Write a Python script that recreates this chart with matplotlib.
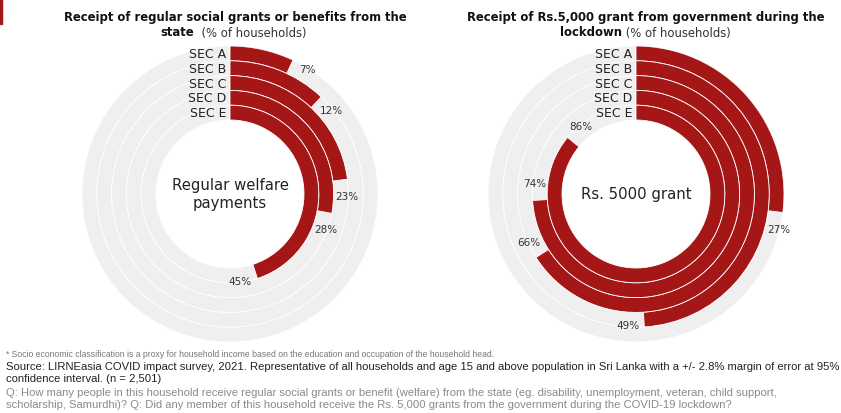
import numpy as np
import matplotlib
matplotlib.use('Agg')
import matplotlib.pyplot as plt
import matplotlib.font_manager as fm
from matplotlib.patches import Rectangle

# data
groups = ['SEC A', 'SEC B', 'SEC C', 'SEC D', 'SEC E']
welfare = [7, 12, 23, 28, 45]
grant = [27, 49, 66, 74, 86]

RED = '#A51616'
GREY = '#EFEFEF'
plt.rcParams['font.family'] = ['DejaVu Sans']

# footer font: narrow one if available
installed = {f.name for f in fm.fontManager.ttflist}
if 'Liberation Sans Narrow' in installed:
    foot, fsize = ['Liberation Sans Narrow'], 9.5
else:
    foot, fsize = ['Liberation Sans'], 8.1

W, H = 841, 414
fig = plt.figure(figsize=(W / 100, H / 100), dpi=100)


def px_axes(cx, cy, r):
    # polar axes box from a centre / radius in pixels
    return fig.add_axes([(cx - r) / W, (H - cy - r) / H, 2 * r / W, 2 * r / H],
                        projection='polar')


def ring_chart(ax, values, centre_text):
    ax.set_theta_zero_location('N')
    ax.set_theta_direction(-1)
    ax.set_ylim(0, 10)
    ax.axis('off')
    radii = [9.5, 8.5, 7.5, 6.5, 5.5]
    # grey tracks
    ax.barh(radii, [2 * np.pi] * 5, left=0, height=1.0, color=GREY,
            edgecolor='white', linewidth=0.6)
    # red bars
    ang = [v / 100 * 2 * np.pi for v in values]
    ax.barh(radii, ang, left=0, height=1.0, color=RED,
            edgecolor='white', linewidth=0.6)
    for g, r in zip(groups, radii):
        ax.annotate(g, xy=(0, r), xytext=(-2.5, 0), textcoords='offset points',
                    ha='right', va='center', fontsize=9, color='#222222')
    for v, a, r in zip(values, ang, radii):
        off = 16 / (r * 14.8)
        ax.text(a + off, r + 0.4, f'{v}%', ha='center', va='center',
                fontsize=7.5, color='#333333')
    ax.text(0, 0, centre_text, ha='center', va='center', fontsize=10.7,
            color='#222222', linespacing=1.25)


ax1 = px_axes(230, 195, 148)
ring_chart(ax1, welfare, 'Regular welfare\npayments')

ax2 = px_axes(636, 195, 148)
ring_chart(ax2, grant, 'Rs. 5000 grant')


# titles
def title(cx, line1, bold2, rest2, split_x):
    fig.text(cx / W, 1 - 17 / H, line1, ha='center', va='center',
             fontsize=8.4, fontweight='bold', color='#111111')
    fig.text(split_x / W, 1 - 33 / H, bold2, ha='right', va='center',
             fontsize=8.4, fontweight='bold', color='#111111')
    fig.text(split_x / W, 1 - 33 / H, rest2, ha='left', va='center',
             fontsize=8.4, color='#333333')


title(235, 'Receipt of regular social grants or benefits from the', 'state',
      '  (% of households)', 194)
title(646, 'Receipt of Rs.5,000 grant from government during the', 'lockdown',
      ' (% of households)', 622)

# red mark top-left
fig.patches.append(Rectangle((0, 1 - 25 / H), 2 / W, 25 / H,
                             transform=fig.transFigure, color=RED))

# footer
fig.text(6 / W, 1 - 355 / H,
         '* Socio economic classification is a proxy for household income based on the education and occupation of the household head.',
         fontsize=6.2, color='#777777', va='center', family=foot)
fig.text(6 / W, 1 - 367 / H,
         'Source: LIRNEasia COVID impact survey, 2021. Representative of all households and age 15 and above population in Sri Lanka with a +/- 2.8% margin of error at 95%',
         fontsize=fsize, color='#222222', va='center', family=foot)
fig.text(6 / W, 1 - 379 / H, 'confidence interval. (n = 2,501)',
         fontsize=fsize, color='#222222', va='center', family=foot)
fig.text(6 / W, 1 - 393 / H,
         'Q: How many people in this household receive regular social grants or benefit (welfare) from the state (eg. disability, unemployment, veteran, child support,',
         fontsize=fsize, color='#8A8A8A', va='center', family=foot)
fig.text(6 / W, 1 - 405 / H,
         'scholarship, Samurdhi)? Q: Did any member of this household receive the Rs. 5,000 grants from the government during the COVID-19 lockdown?',
         fontsize=fsize, color='#8A8A8A', va='center', family=foot)

fig.savefig('out.png', dpi=100)
